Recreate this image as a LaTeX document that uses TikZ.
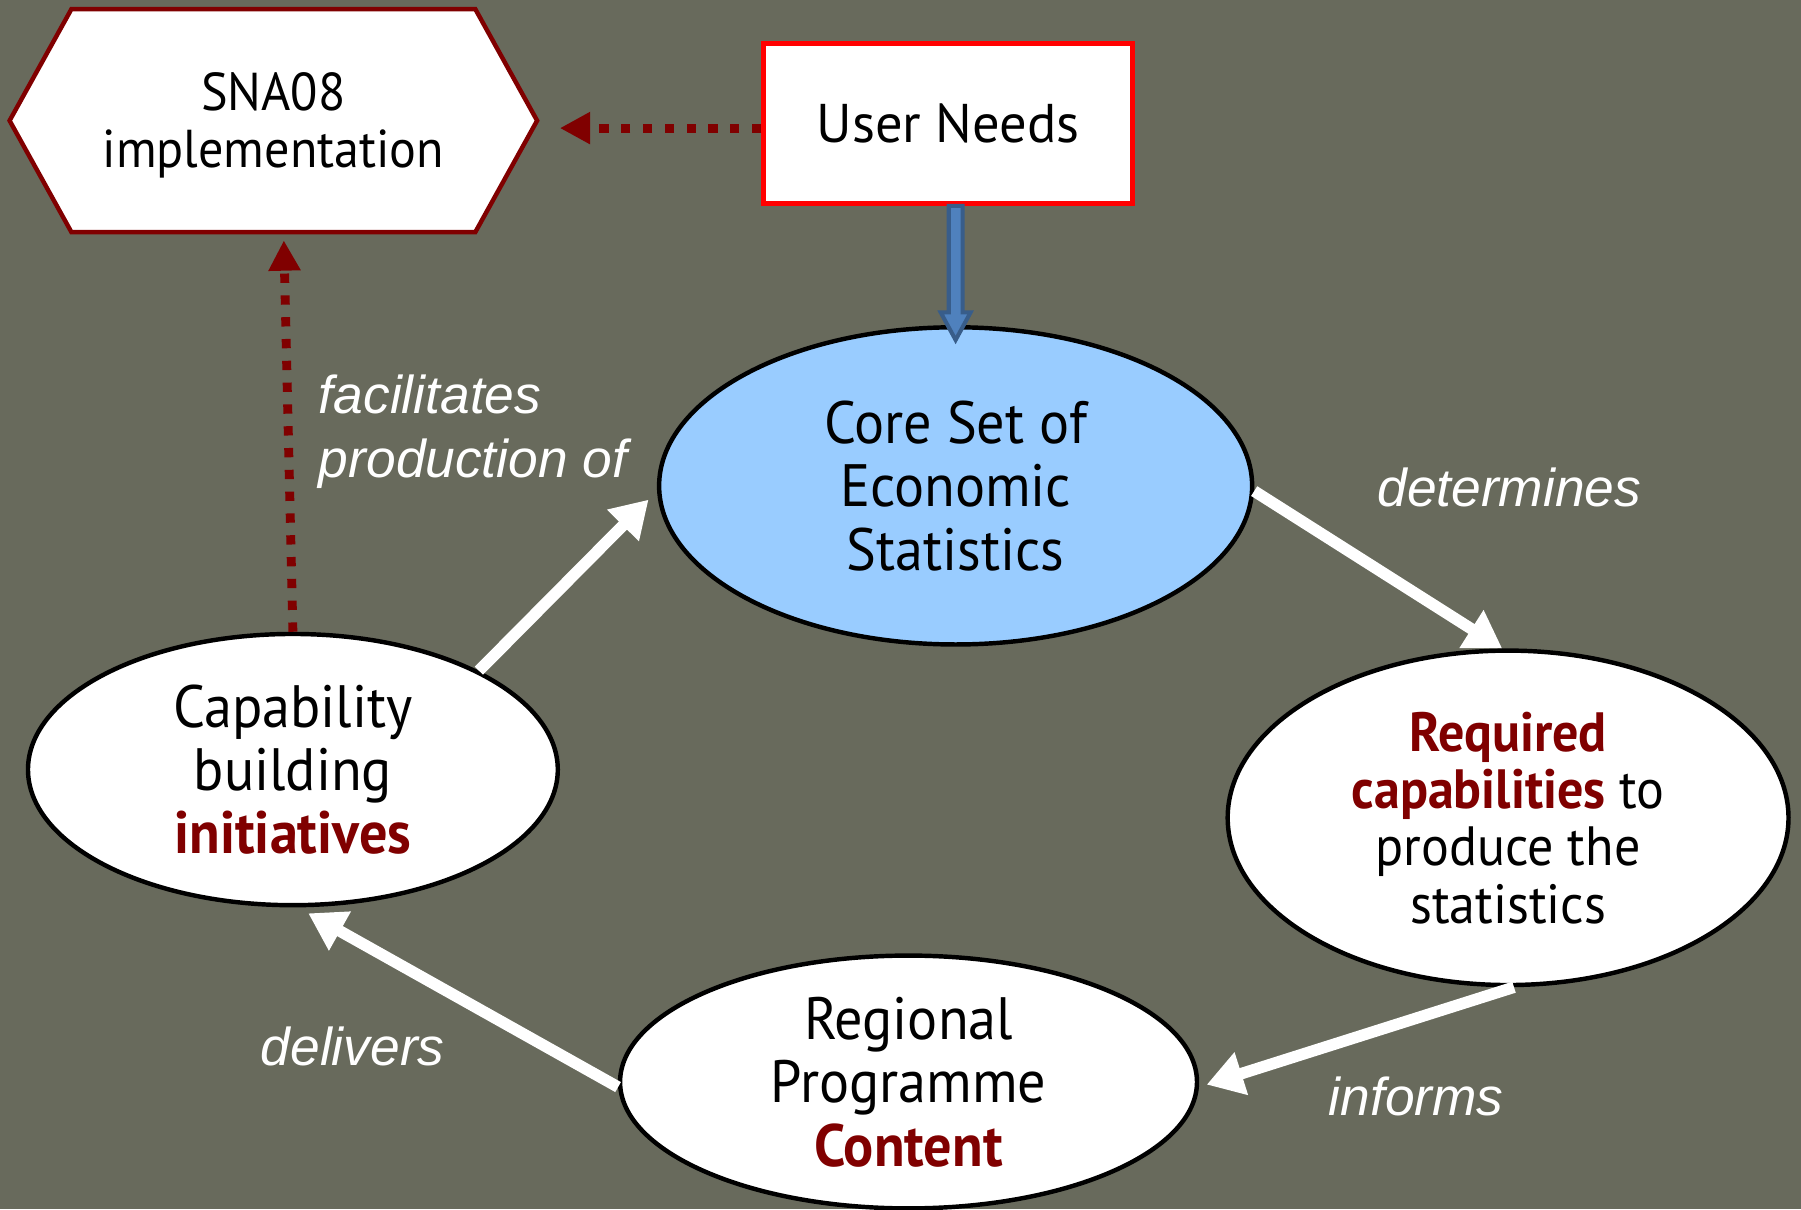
\documentclass[tikz,border=0pt]{standalone}
\usepackage{fontspec}
\setmainfont{PT Sans}
\newfontfamily\nodefont[FakeStretch=0.94]{PT Sans}
\newfontfamily\lblfont{Liberation Sans}
\usetikzlibrary{shapes.geometric,shapes.symbols,arrows.meta,calc}
\definecolor{bgc}{HTML}{686A5C}
\definecolor{dred}{HTML}{800000}
\definecolor{lblue}{HTML}{99CCFF}
\definecolor{bfill}{HTML}{4F81BD}
\definecolor{bdraw}{HTML}{385D8A}
\begin{document}
\begin{tikzpicture}[x=0.01cm,y=-0.01cm,
  ell/.style={ellipse, draw=black, line width=1.1pt, fill=white, inner sep=0pt, align=center,
              font=\nodefont\fontsize{14.8}{15.7}\selectfont},
  warrow/.style={draw=white, line width=2.85pt, -{Triangle[length=9pt,width=10.5pt]}},
  darrow/.style={draw=dred, line width=2.2pt, dash pattern=on 2.3pt off 3.1pt, -{Triangle[length=7.5pt,width=7.5pt]}},
  lbl/.style={text=white, font=\lblfont\itshape\fontsize{13.2}{16}\selectfont, align=left, inner sep=0pt}]
\fill[bgc] (0,0) rectangle (1568,1053);
\useasboundingbox (0,0) rectangle (1568,1053);

% nodes
\node[signal, signal to=east and west, signal pointer angle=122, draw=dred, line width=1.1pt,
      fill=white, minimum width=4.59cm, minimum height=1.94cm, inner sep=0pt, align=center,
      font=\nodefont\fontsize{13.2}{14.2}\selectfont] (hex) at (238,105) {\rule{0pt}{11.8pt}SNA08\\implementation};
\node[draw=red, line width=1.2pt, fill=white, minimum width=3.21cm, minimum height=1.39cm,
      font=\fontsize{13.5}{16}\selectfont] (user) at (825.5,107.5) {User Needs};
\node[ell, fill=lblue, minimum width=5.16cm, minimum height=2.76cm] (core) at (832,423)
      {Core Set of\\Economic\\Statistics};
\node[ell, minimum width=4.61cm, minimum height=2.36cm] (cap) at (255,670)
      {Capability\\building\\\textcolor{dred}{\bfseries initiatives}};
\node[ell, minimum width=4.88cm, minimum height=2.91cm, font=\nodefont\fontsize{13.7}{14.2}\selectfont] (req) at (1313,712)
      {\textcolor{dred}{\bfseries Required}\\\textcolor{dred}{\bfseries capabilities} to\\produce the\\statistics};
\node[ell, minimum width=5.02cm, minimum height=2.2cm] (reg) at (791,942)
      {Regional\\Programme\\\textcolor{dred}{\bfseries Content}};

% labels
\node[lbl, anchor=west] (lfac) at (277,376) {facilitates\\production of};
\node[lbl] (ldet) at (1314,424) {determines};
\node[lbl] (ldel) at (307,911) {delivers};
\node[lbl] (linf) at (1233,955) {informs};

% white cycle arrows
\draw[warrow, shorten >=3pt] (cap.28.5) -- (core.181);
\draw[warrow] (core.-1) -- (req.92);
\draw[warrow, shorten >=2pt] (req.-88) -- (reg.-1);
\draw[warrow, shorten >=3pt] (reg.181) -- (cap.-88);

% dotted dark red arrows
\coordinate (uw) at ($(user.west)+(0,4)$);
\draw[darrow, shorten >=5pt] (uw) -- (uw -| hex.east);
\draw[darrow, shorten >=1.5pt] (cap.north) -- ($(hex.south)+(9,0)$);

% blue block arrow
\coordinate (bs) at (core.north |- user.south);
\coordinate (bt) at ($(core.north)+(0,13)$);
\draw[bdraw, fill=bfill, line width=1pt, line join=miter]
  ($(bs)+(-6,0)$) -- ($(bt)+(-6,-24)$) -- ($(bt)+(-13,-24)$) -- (bt)
  -- ($(bt)+(13,-24)$) -- ($(bt)+(6,-24)$) -- ($(bs)+(6,0)$) -- cycle;
\end{tikzpicture}
\end{document}
